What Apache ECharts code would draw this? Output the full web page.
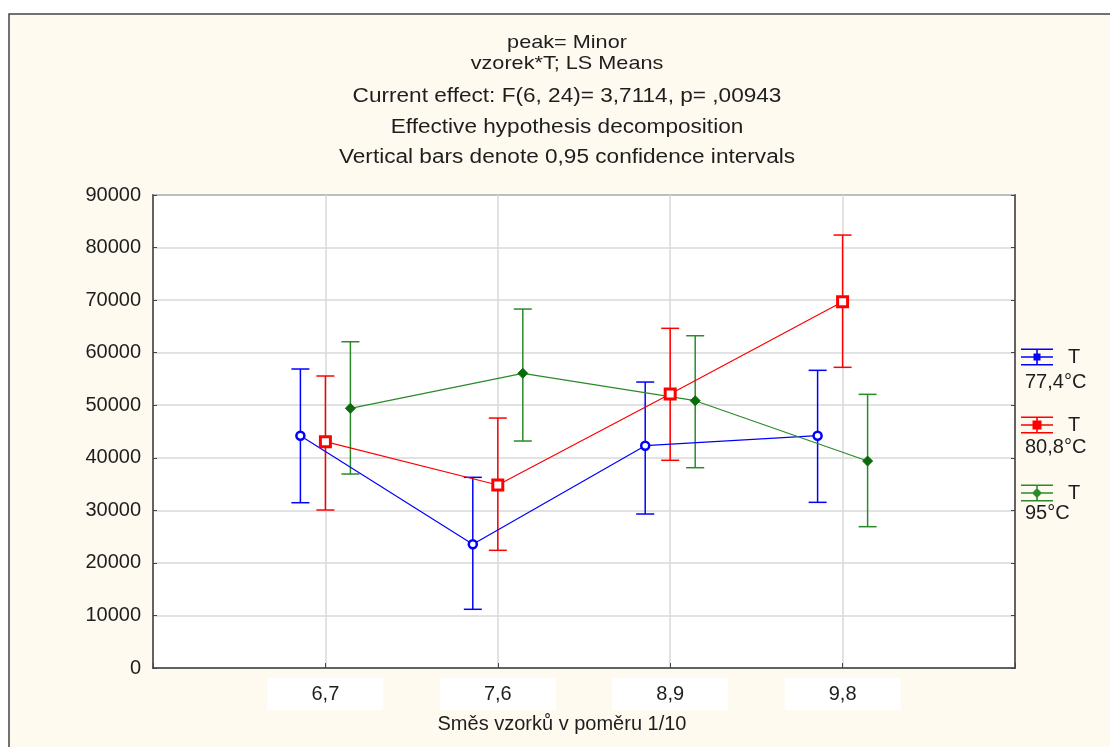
<!DOCTYPE html>
<html>
<head>
<meta charset="utf-8">
<script src="https://cdn.jsdelivr.net/npm/echarts@6/dist/echarts.min.js"></script>
<style>
html,body{margin:0;padding:0;background:#fff;}
#chart{width:1110px;height:747px;}
</style>
</head>
<body>
<div id="chart"></div>
<script>
// ---- data ----
const categories = ['6,7', '7,6', '8,9', '9,8'];
const seriesNames = ['T 77,4°C', 'T 80,8°C', 'T 95°C'];
const legendSecondLine = ['77,4°C', '80,8°C', '95°C'];

const blueMean = [44200, 23530, 42300, 44200];
const blueLow  = [31450, 11170, 29300, 31520];
const blueHigh = [56890, 36280, 54410, 56640];

const redMean = [43060, 34820, 52130, 69690];
const redLow  = [30060, 22390, 39520, 57210];
const redHigh = [55560, 47560, 64630, 82380];

const greenMean = [49410, 56070, 50860, 39380];
const greenLow  = [36910, 43190, 38110, 26890];
const greenHigh = [62080, 68300, 63220, 52070];

const titleLines = [
  'peak= Minor',
  'vzorek*T; LS Means',
  'Current effect: F(6, 24)= 3,7114, p= ,00943',
  'Effective hypothesis decomposition',
  'Vertical bars denote 0,95 confidence intervals'
];
const xAxisTitle = 'Směs vzorků v poměru 1/10';

// ---- styling / layout ----
const FONT = '"Liberation Sans", Arial, sans-serif';
const TXT = '#1e1e1e';
const colors = ['#0000ff', '#ff0000', '#2a8a2a'];
const markerColors = ['#0000ff', '#ff0000', '#0b6b0b'];
const offsets = [-0.145, 0, 0.145];
const symbols = ['circle', 'rect', 'diamond'];
const symbolSizes = [8, 10, 10];
const markerStyles = [
  { color: '#ffffff', borderColor: '#0000ff', borderWidth: 2.5 },
  { color: '#ffffff', borderColor: '#ff0000', borderWidth: 3 },
  { color: '#0b6b0b', borderColor: '#0b6b0b', borderWidth: 1 }
];

const means = [blueMean, redMean, greenMean];
const lows = [blueLow, redLow, greenLow];
const highs = [blueHigh, redHigh, greenHigh];

const baseIcon = 'M0,0H32V1.6H0Z M0,15.4H32V17H0Z M15.2,0H16.8V17H15.2Z M0,7.7H32V9.3H0Z ';
const legendIcons = [
  'path://' + baseIcon + 'M12.5,5H19.5V12H12.5Z',
  'path://' + baseIcon + 'M11.5,4H20.5V13H11.5Z',
  'path://' + baseIcon + 'M16,3.5L21,8.5L16,13.5L11,8.5Z'
];

const series = [];
seriesNames.forEach((name, s) => {
  const ebData = categories.map((c, i) => [i + 1 + offsets[s], lows[s][i], highs[s][i]]);
  series.push({
    name: name,
    type: 'custom',
    data: ebData,
    encode: { x: 0, y: [1, 2] },
    z: 3,
    renderItem: function (params, api) {
      const x = api.value(0);
      const p1 = api.coord([x, api.value(1)]);
      const p2 = api.coord([x, api.value(2)]);
      const half = 9;
      const st = { stroke: colors[s], lineWidth: 1.5 };
      return {
        type: 'group',
        children: [
          { type: 'line', shape: { x1: p1[0], y1: p1[1], x2: p2[0], y2: p2[1] }, style: st },
          { type: 'line', shape: { x1: p1[0] - half, y1: p1[1], x2: p1[0] + half, y2: p1[1] }, style: st },
          { type: 'line', shape: { x1: p2[0] - half, y1: p2[1], x2: p2[0] + half, y2: p2[1] }, style: st }
        ]
      };
    }
  });
  series.push({
    name: name,
    type: 'line',
    data: categories.map((c, i) => [i + 1 + offsets[s], means[s][i]]),
    symbol: symbols[s],
    symbolSize: symbolSizes[s],
    showAllSymbol: true,
    z: 4,
    lineStyle: { color: colors[s], width: 1.2 },
    itemStyle: markerStyles[s],
    emphasis: { disabled: true },
    animation: false
  });
});

const graphics = [
  {
    type: 'rect', z: -10, silent: true,
    shape: { x: 9, y: 14, width: 1300, height: 900 },
    style: { fill: '#fefaf0', stroke: '#444', lineWidth: 1.5 }
  }
];
const titleY = [43, 64, 96, 127, 157];
titleLines.forEach((t, i) => {
  graphics.push({
    type: 'text', x: 567, y: titleY[i], scaleX: i < 2 ? 1.14 : 1.13, z: 5,
    style: {
      text: t, x: 0, y: 0, textAlign: 'center', textVerticalAlign: 'middle',
      font: (i < 2 ? '19px ' : '20px ') + FONT, fill: TXT
    }
  });
});
const legendTextY = [382, 447, 513];
legendSecondLine.forEach((t, i) => {
  graphics.push({
    type: 'text', z: 5,
    style: {
      text: t, x: 1025, y: legendTextY[i], textAlign: 'left', textVerticalAlign: 'middle',
      font: '20px ' + FONT, fill: TXT
    }
  });
});

const chart = echarts.init(document.getElementById('chart'), null, { renderer: 'canvas' });
chart.setOption({
  animation: false,
  backgroundColor: '#ffffff',
  textStyle: { fontFamily: FONT },
  grid: {
    left: 153, right: 95, top: 195, bottom: 79,
    show: true, backgroundColor: '#ffffff', borderColor: '#444', borderWidth: 1.5, z: 0
  },
  legend: {
    orient: 'vertical',
    left: 1021, top: 347, padding: 0,
    itemWidth: 32, itemHeight: 17, itemGap: 48,
    selectedMode: false,
    data: seriesNames.map((n, i) => ({ name: n, icon: legendIcons[i], itemStyle: { color: colors[i] } })),
    formatter: () => 'T',
    textStyle: { fontSize: 20, color: TXT, fontFamily: FONT, padding: [0, 0, 0, 10] }
  },
  xAxis: {
    type: 'value', min: 0, max: 5, interval: 1,
    name: xAxisTitle, nameLocation: 'middle', nameGap: 46,
    nameTextStyle: { fontSize: 20, color: TXT, fontFamily: FONT, padding: [0, 44, 0, 0] },
    axisLine: { show: true, lineStyle: { color: '#444', width: 1.5 } },
    axisTick: { show: true, inside: true, length: 5, lineStyle: { color: '#444' } },
    splitLine: { show: true, lineStyle: { color: '#d9d9d9', width: 1.5 } },
    axisLabel: {
      margin: 10,
      formatter: v => (v >= 1 && v <= categories.length) ? '{b|' + categories[v - 1] + '}' : '',
      rich: {
        b: { fontSize: 20, color: TXT, fontFamily: FONT, backgroundColor: '#ffffff', padding: [6, 44, 6, 44] }
      }
    }
  },
  yAxis: [
    {
      type: 'value', min: 0, max: 90000, interval: 10000,
      axisLine: { show: true, lineStyle: { color: '#444', width: 1.5 } },
      axisTick: { show: true, inside: true, length: 4, lineStyle: { color: '#444' } },
      splitLine: { show: true, lineStyle: { color: '#d9d9d9', width: 1.5 } },
      axisLabel: { fontSize: 20, color: TXT, fontFamily: FONT, margin: 12, formatter: v => String(v) }
    },
    {
      type: 'value', min: 0, max: 90000, interval: 10000, position: 'right',
      axisLine: { show: true, lineStyle: { color: '#444', width: 1.5 } },
      axisTick: { show: true, inside: true, length: 4, lineStyle: { color: '#444' } },
      splitLine: { show: false },
      axisLabel: { show: false }
    }
  ],
  graphic: graphics,
  series: series
});
</script>
</body>
</html>
